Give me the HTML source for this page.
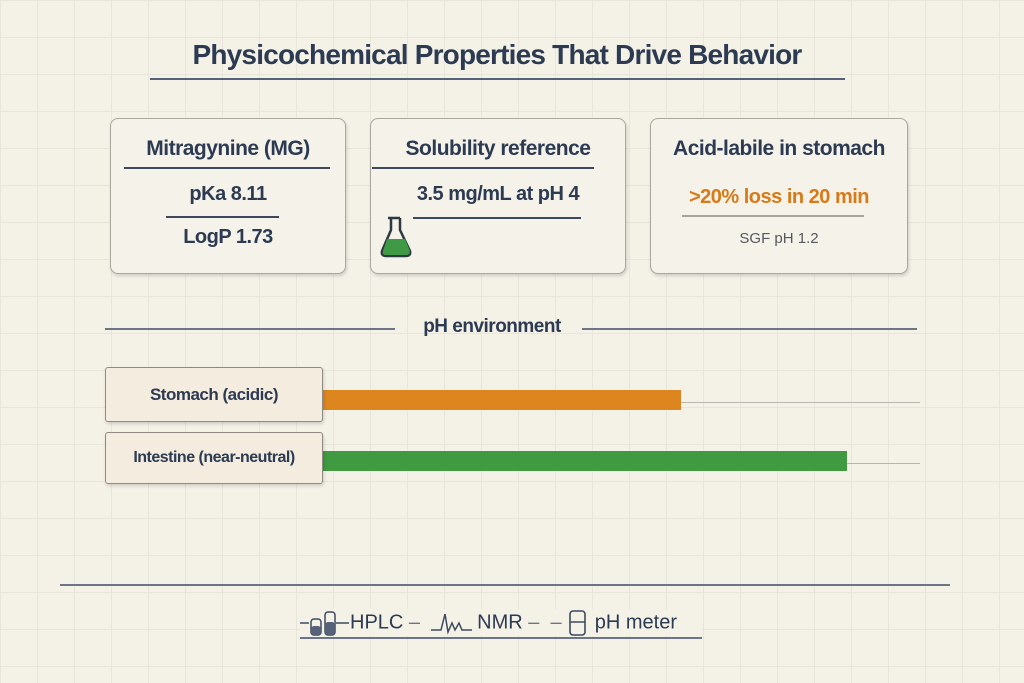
<!DOCTYPE html>
<html><head><style>
body{margin:0;width:1024px;height:683px;overflow:hidden;background-color:#f4f1e7;
background-image:linear-gradient(#e8e5da 1px,transparent 1px),linear-gradient(90deg,#e8e5da 1px,transparent 1px);background-size:37px 37px;
font-family:"Liberation Sans",sans-serif;color:#2c3a52;position:relative}
.a{position:absolute}
.t{font-weight:bold;letter-spacing:-0.5px;text-align:center}
.card{position:absolute;border:1.5px solid #a9a79f;border-radius:8px;background:#f5f2ea;box-shadow:1px 2px 3px rgba(0,0,0,.15)}
.ln{position:absolute;height:2px;background:#3d4a5e}
.lab{position:absolute;border:1.5px solid #8f8b84;background:#f3ecdf;border-radius:3px;box-shadow:1px 2px 3px rgba(0,0,0,.15);font-size:17px;font-weight:bold;letter-spacing:-0.5px;display:flex;align-items:center;justify-content:center}
</style></head><body>
<div class="a t" style="left:0;width:994px;top:39px;font-size:28px;letter-spacing:-0.8px">Physicochemical Properties That Drive Behavior</div>
<div class="ln" style="left:150px;width:695px;top:78px;background:#56627a"></div>

<div class="card" style="left:110px;top:118px;width:234px;height:154px"></div>
<div class="a t" style="left:110px;width:236px;top:137px;font-size:21px">Mitragynine (MG)</div>
<div class="ln" style="left:124px;width:206px;top:167px;height:1.5px"></div>
<div class="a t" style="left:110px;width:236px;top:183px;font-size:20px">pKa 8.11</div>
<div class="ln" style="left:166px;width:113px;top:216px;height:1.5px"></div>
<div class="a t" style="left:110px;width:236px;top:226px;font-size:20px">LogP 1.73</div>

<div class="card" style="left:370px;top:118px;width:254px;height:154px"></div>
<div class="a t" style="left:370px;width:256px;top:137px;font-size:21px">Solubility reference</div>
<div class="ln" style="left:372px;width:222px;top:167px;height:1.5px"></div>
<div class="a t" style="left:370px;width:256px;top:183px;font-size:20px">3.5 mg/mL at pH 4</div>
<div class="ln" style="left:413px;width:168px;top:217px;height:1.5px"></div>
<svg class="a" style="left:378px;top:215px" width="38" height="44"><path d="M10 3h12M13 3v12L4 36q-1 5 4 5h20q5 0 4-5L22 15V3" fill="none" stroke="#2c3a40" stroke-width="2.5"/><path d="M9 24h18l5 12q0 4-4 4H8q-4 0-3-4z" fill="#3f9a45"/></svg>

<div class="card" style="left:650px;top:118px;width:256px;height:154px"></div>
<div class="a t" style="left:650px;width:258px;top:137px;font-size:21px">Acid-labile in stomach</div>
<div class="a t" style="left:650px;width:258px;top:186px;font-size:20px;color:#d77a17">&gt;20% loss in 20 min</div>
<div class="ln" style="left:682px;width:182px;top:215px;height:1.5px;background:#a7a49c"></div>
<div class="a" style="left:650px;width:258px;top:230px;font-size:15px;text-align:center;color:#55585e">SGF pH 1.2</div>

<div class="ln" style="left:105px;width:290px;top:328px;height:1.5px;background:#6b7587"></div>
<div class="ln" style="left:582px;width:335px;top:328px;height:1.5px;background:#6b7587"></div>
<div class="a t" style="left:0;width:984px;top:316px;font-size:19px">pH environment</div>

<div class="ln" style="left:323px;width:597px;top:402px;height:1px;background:#b8b6b0"></div>
<div class="ln" style="left:323px;width:597px;top:463px;height:1px;background:#b8b6b0"></div>
<div class="a" style="left:323px;top:390px;width:358px;height:20px;background:#dd851e"></div>
<div class="a" style="left:323px;top:451px;width:524px;height:20px;background:#3f9a40"></div>
<div class="lab" style="left:105px;top:367px;width:216px;height:53px">Stomach (acidic)</div>
<div class="lab" style="left:105px;top:432px;width:216px;height:50px;font-size:16px">Intestine (near-neutral)</div>

<div class="ln" style="left:60px;width:890px;top:584px;height:1.5px;background:#6b7587"></div>
<div class="ln" style="left:300px;width:402px;top:637px;height:1.5px;background:#6b7587"></div>
<div class="a" style="left:300px;top:609px;width:402px;height:27px;background:#f4f1e7;font-size:20px;white-space:nowrap;line-height:27px">
<svg width="50" height="26" style="vertical-align:middle"><path d="M0 13h9M36 13h13" stroke="#3d4a5e" stroke-width="1.5"/><rect x="11" y="9" width="10" height="16" rx="3" fill="none" stroke="#3d4a5e" stroke-width="1.5"/><rect x="25" y="2" width="10" height="23" rx="3" fill="none" stroke="#3d4a5e" stroke-width="1.5"/><rect x="11" y="16" width="10" height="9" rx="3" fill="#55627a"/><rect x="25" y="12" width="10" height="13" rx="3" fill="#55627a"/></svg>HPLC <span style="color:#6b7587">– &nbsp;</span><svg width="46" height="26" style="vertical-align:middle"><path d="M0 20h10l4-16 3 18 4-9 3 7 4-7 3 7h10" fill="none" stroke="#3d4a5e" stroke-width="1.5"/></svg>NMR<span style="color:#6b7587"> – &nbsp;– </span><svg width="22" height="28" style="vertical-align:middle"><rect x="3" y="2" width="15" height="24" rx="3" fill="none" stroke="#3d4a5e" stroke-width="1.6"/><path d="M3 13h15" stroke="#3d4a5e" stroke-width="1.5"/></svg> pH meter
</div>
</body></html>
